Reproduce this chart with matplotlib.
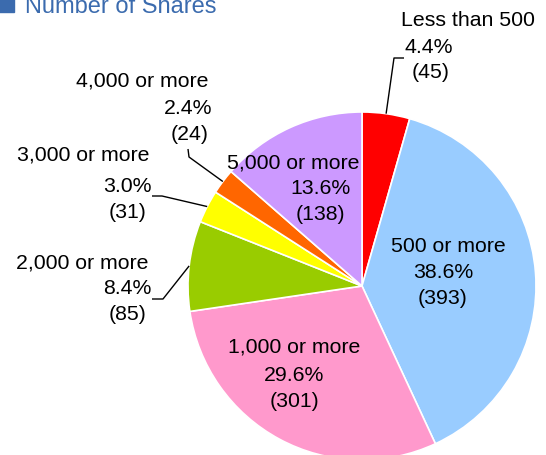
import matplotlib
matplotlib.use("Agg")
import numpy as np
import matplotlib.pyplot as plt
from matplotlib.patches import Rectangle

plt.rcParams['font.family'] = ['Liberation Sans', 'DejaVu Sans']

# data: number of shareholders by holding size
categories = ["Less than 500", "500 or more", "1,000 or more", "2,000 or more",
              "3,000 or more", "4,000 or more", "5,000 or more"]
counts = [45, 393, 301, 85, 31, 24, 138]
colors = ["#FF0000", "#99CCFF", "#FF99CC", "#99CC00", "#FFFF00", "#FF6600", "#CC99FF"]
title = "Number of Shares"

W, H = 546, 456
fig = plt.figure(figsize=(W / 100, H / 100), dpi=100)
ax = fig.add_axes([0, 0, 1, 1])
ax.set_xlim(0, W)
ax.set_ylim(0, H)
ax.set_aspect('equal')
ax.axis('off')

# pixel helper: y measured from top
def P(x, y):
    return x, H - y

cx, cy = P(362, 287)
R = 174
ax.pie(counts, colors=colors, startangle=90, counterclock=False,
       center=(cx, cy), radius=R, frame=True,
       wedgeprops=dict(edgecolor='white', linewidth=1.2))
ax.set_xlim(0, W)
ax.set_ylim(0, H)
ax.axis('off')

total = sum(counts)
pct = [c / total * 100 for c in counts]

# mid-angle of each wedge, point on rim
cum = np.cumsum([0] + counts[:-1])
mid = [90 - (c0 + c / 2) / total * 360 for c0, c in zip(cum, counts)]
rim = [(cx + R * np.cos(np.radians(a)), cy + R * np.sin(np.radians(a))) for a in mid]

fs = 15.3
def lab(i, pos):
    # pos: three (x, y) pixel centers for name / percent / count
    lines = [categories[i], f"{pct[i]:.1f}%", f"({counts[i]})"]
    for t, (x, y) in zip(lines, pos):
        ax.text(*P(x, y), t, fontsize=fs, ha='center', va='center', color='black')

lab(0, [(468, 20), (429, 47), (431, 73)])
lab(1, [(448, 247), (443, 272), (443, 298)])
lab(2, [(294, 347), (294, 376), (294, 402)])
lab(3, [(82, 263), (127, 289), (128, 315)])
lab(4, [(83, 155), (127, 186), (128, 212)])
lab(5, [(142, 81), (188, 108), (190, 135)])
lab(6, [(293, 163), (320, 189), (320, 215)])

# leader lines (elbow points by hand, end on the wedge rim)
leaders = {
    0: [P(404, 59), P(394, 59)],
    5: [P(188, 150), P(189, 158)],
    4: [P(152, 197), P(162, 197)],
    3: [P(152, 300), P(163, 300)],
}
for i, pts in leaders.items():
    xs = [p[0] for p in pts] + [rim[i][0]]
    ys = [p[1] for p in pts] + [rim[i][1]]
    ax.plot(xs, ys, color='black', lw=1.0, solid_capstyle='butt')

# title (cut off at top of image)
ax.add_patch(Rectangle(P(-1, 12.5), 15, 18, color='#3B6BAE', clip_on=True))
ax.text(*P(25, 12.7), title, fontsize=17, color='#3B6BAE', ha='left', va='baseline')

fig.savefig("out.png", dpi=100)
